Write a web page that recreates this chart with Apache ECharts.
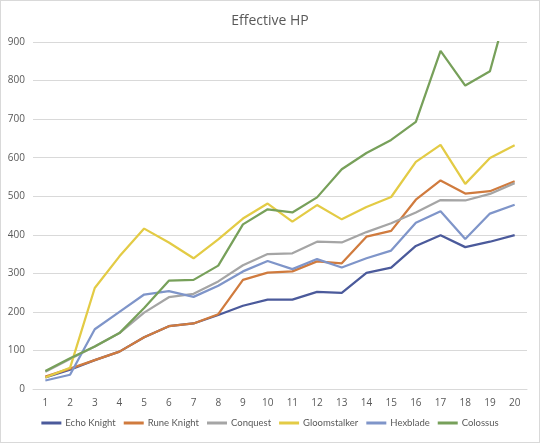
<!DOCTYPE html>
<html>
<head>
<meta charset="utf-8">
<script src="https://cdn.jsdelivr.net/npm/echarts@6/dist/echarts.min.js"></script>
<style>
html,body{margin:0;padding:0;background:#fff;}
#c{width:538px;height:441px;border:1px solid #d9d9d9;}
</style>
</head>
<body>
<div id="c"></div>
<script>
const categories = ['1','2','3','4','5','6','7','8','9','10','11','12','13','14','15','16','17','18','19','20'];
const echoKnight   = [30, 50, 75, 97, 134, 163, 170, 192, 216, 232, 232, 252, 249, 301, 315, 371, 399, 368, 382, 399];
const runeKnight   = [32, 53, 75, 97, 134, 163, 170, 194, 283, 302, 305, 331, 326, 395, 410, 491, 541, 507, 513, 539];
const conquest     = [45, 78, 110, 145, 198, 238, 247, 279, 321, 350, 352, 382, 380, 407, 430, 458, 490, 489, 506, 534];
const gloomstalker = [30, 55, 262, 344, 416, 380, 339, 388, 442, 481, 434, 477, 440, 472, 498, 589, 633, 532, 599, 632];
const hexblade     = [22, 37, 155, 200, 245, 254, 239, 268, 305, 332, 311, 337, 315, 339, 359, 431, 461, 389, 455, 478];
const colossus     = [47, 80, 110, 145, 210, 281, 283, 320, 427, 466, 458, 497, 570, 612, 646, 693, 877, 787, 824, 1058];
const seriesNames  = ['Echo Knight','Rune Knight','Conquest','Gloomstalker','Hexblade','Colossus'];
const seriesColors = ['#4b5a9b','#d07b3e','#a5a5a5','#e3cb45','#7f95c9','#77a05a'];
const seriesData   = [echoKnight, runeKnight, conquest, gloomstalker, hexblade, colossus];

const chart = echarts.init(document.getElementById('c'));
chart.setOption({
  animation: false,
  title: {
    text: 'Effective HP', left: 'center', top: 8,
    textStyle: {fontFamily: 'Open Sans', fontSize: 14, fontWeight: 'normal', color: '#595959'}
  },
  legend: {
    bottom: 9, left: 'center', itemWidth: 20, itemHeight: 3, itemGap: 8,
    icon: 'rect',
    textStyle: {fontFamily: 'Lato', fontSize: 9.5, color: '#595959', padding: [0, 0, 0, -1]},
    data: seriesNames
  },
  grid: {left: 32, right: 12, top: 41, bottom: 53},
  xAxis: {
    type: 'category', data: categories, boundaryGap: true,
    axisLine: {lineStyle: {color: '#d9d9d9', width: 1}},
    axisTick: {show: false},
    axisLabel: {fontFamily: 'Open Sans', fontSize: 10, color: '#595959', margin: 9}
  },
  yAxis: {
    type: 'value', min: 0, max: 900, interval: 100,
    axisLine: {show: false}, axisTick: {show: false},
    splitLine: {lineStyle: {color: '#d9d9d9', width: 1}},
    axisLabel: {fontFamily: 'Open Sans', fontSize: 10, color: '#595959', margin: 8}
  },
  series: seriesNames.map((n, i) => ({
    name: n, type: 'line', data: seriesData[i], symbol: 'none', clip: true,
    lineStyle: {color: seriesColors[i], width: 2.25}, itemStyle: {color: seriesColors[i]}
  }))
});
</script>
</body>
</html>
